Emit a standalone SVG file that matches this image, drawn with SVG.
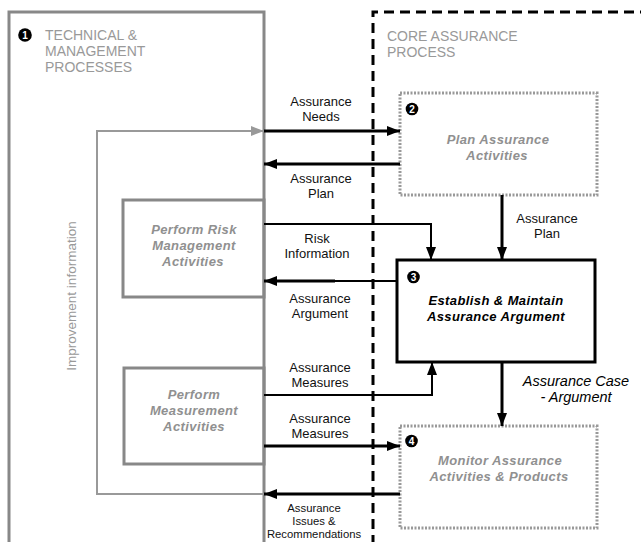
<svg xmlns="http://www.w3.org/2000/svg" width="641" height="542" viewBox="0 0 641 542">
<defs>
<style>
.hdr{font-family:"Liberation Sans",Arial,sans-serif;font-size:14px;fill:#999}
.lbl{font-family:"Liberation Sans",Arial,sans-serif;font-size:13px;fill:#111;text-anchor:middle}
.sml{font-family:"Liberation Sans",Arial,sans-serif;font-size:11.3px;fill:#111;text-anchor:middle}
.nodeg{font-family:"Liberation Sans",Arial,sans-serif;font-size:13px;font-weight:bold;font-style:italic;fill:#909090;text-anchor:middle;letter-spacing:0.4px}
.nodek{font-family:"Liberation Sans",Arial,sans-serif;font-size:13px;font-weight:bold;font-style:italic;fill:#000;text-anchor:middle;letter-spacing:0.4px}
.case{font-family:"Liberation Sans",Arial,sans-serif;font-size:14.5px;font-style:italic;fill:#000;text-anchor:middle}
.num{font-family:"Liberation Sans",Arial,sans-serif;font-size:10px;font-weight:bold;fill:#fff;text-anchor:middle}
.gbox{fill:none;stroke:#888;stroke-width:3}
.dbox{fill:none;stroke:#999;stroke-width:3;stroke-dasharray:2 1.5}
.arr{fill:none;stroke:#000;stroke-width:3}
.arrt{fill:none;stroke:#000;stroke-width:2}
.garr{fill:none;stroke:#999;stroke-width:2}
.dash{fill:none;stroke:#000;stroke-width:3;stroke-dasharray:10 6}
</style>
<marker id="ah" markerUnits="userSpaceOnUse" markerWidth="14" markerHeight="12" refX="13" refY="5" orient="auto">
<path d="M0,0 L13,5 L0,10 z" fill="#000"/>
</marker>
<marker id="gah" markerUnits="userSpaceOnUse" markerWidth="14" markerHeight="12" refX="13" refY="5" orient="auto">
<path d="M0,0 L13,5 L0,10 z" fill="#999"/>
</marker>
</defs>
<rect width="641" height="542" fill="#fff"/>

<g id="technical-management">
<path class="gbox" d="M9,545 L9,12 L264,12 L264,545"/>
<circle cx="25" cy="35" r="6.8" fill="#000"/>
<text class="num" x="25" y="38.6">1</text>
<text class="hdr" x="45" y="40">TECHNICAL &amp;</text>
<text class="hdr" x="45" y="56">MANAGEMENT</text>
<text class="hdr" x="45" y="72">PROCESSES</text>
</g>

<g id="core-assurance">
<path class="dash" d="M373,545 L373,12 L641,12"/>
<text class="hdr" x="387" y="41">CORE ASSURANCE</text>
<text class="hdr" x="387" y="57">PROCESS</text>
</g>

<g id="plan-assurance">
<rect class="dbox" x="400" y="93" width="197" height="102"/>
<circle cx="412" cy="109" r="6.3" fill="#000"/>
<text class="num" x="412" y="112.6">2</text>
<text class="nodeg" x="498" y="144">Plan Assurance</text>
<text class="nodeg" x="497" y="160">Activities</text>
</g>

<g id="risk-management">
<rect class="gbox" x="123" y="200" width="141" height="97"/>
<text class="nodeg" x="194" y="234">Perform Risk</text>
<text class="nodeg" x="194" y="250">Management</text>
<text class="nodeg" x="193" y="266">Activities</text>
</g>

<g id="establish-argument">
<rect x="397" y="260" width="198" height="102" fill="none" stroke="#000" stroke-width="3"/>
<circle cx="413.5" cy="277" r="6.3" fill="#000"/>
<text class="num" x="413.5" y="280.6">3</text>
<text class="nodek" x="496" y="305">Establish &amp; Maintain</text>
<text class="nodek" x="496" y="321">Assurance Argument</text>
</g>

<g id="measurement">
<rect class="gbox" x="124" y="368" width="140" height="96"/>
<text class="nodeg" x="194" y="399">Perform</text>
<text class="nodeg" x="194" y="415">Measurement</text>
<text class="nodeg" x="194" y="431">Activities</text>
</g>

<g id="monitor">
<rect class="dbox" x="400" y="426" width="197" height="102"/>
<circle cx="411.5" cy="441" r="6.3" fill="#000"/>
<text class="num" x="411.5" y="444.6">4</text>
<text class="nodeg" x="500" y="465">Monitor Assurance</text>
<text class="nodeg" x="499" y="481">Activities &amp; Products</text>
</g>

<g id="connectors">
<path class="garr" d="M264,494 L97,494 L97,131 L264,131" marker-end="url(#gah)"/>
<text transform="translate(76,296) rotate(-90)" font-family="Liberation Sans, Arial, sans-serif" font-size="13.5" fill="#999" text-anchor="middle">Improvement information</text>

<path class="arr" d="M264,131 L400,131" marker-end="url(#ah)"/>
<text class="lbl" x="321" y="106">Assurance</text>
<text class="lbl" x="321" y="121">Needs</text>

<path class="arr" d="M400,164 L264,164" marker-end="url(#ah)"/>
<text class="lbl" x="321" y="183">Assurance</text>
<text class="lbl" x="321" y="198">Plan</text>

<path class="arr" d="M502,195 L502,260" marker-end="url(#ah)"/>
<text class="lbl" x="547" y="223">Assurance</text>
<text class="lbl" x="547" y="238">Plan</text>

<path class="arrt" d="M264,224 L431,224 L431,260" marker-end="url(#ah)"/>
<text class="lbl" x="317" y="243">Risk</text>
<text class="lbl" x="317" y="258">Information</text>

<path class="arrt" d="M397,281 L334,281"/>
<path class="arr" d="M335,281 L264,281" marker-end="url(#ah)"/>
<text class="lbl" x="320" y="303">Assurance</text>
<text class="lbl" x="320" y="318">Argument</text>

<path class="arrt" d="M264,395 L432,395 L432,362" marker-end="url(#ah)"/>
<text class="lbl" x="320" y="372">Assurance</text>
<text class="lbl" x="320" y="387">Measures</text>

<path class="arr" d="M264,446 L400,446" marker-end="url(#ah)"/>
<text class="lbl" x="320" y="423">Assurance</text>
<text class="lbl" x="320" y="438">Measures</text>

<path class="arr" d="M502,362 L502,426" marker-end="url(#ah)"/>
<text class="case" x="576" y="386">Assurance Case</text>
<text class="case" x="576" y="402">- Argument</text>

<path class="arr" d="M400,494 L264,494" marker-end="url(#ah)"/>
<text class="sml" x="314" y="512">Assurance</text>
<text class="sml" x="314" y="525">Issues &amp;</text>
<text class="sml" x="314" y="538">Recommendations</text>
</g>
</svg>
